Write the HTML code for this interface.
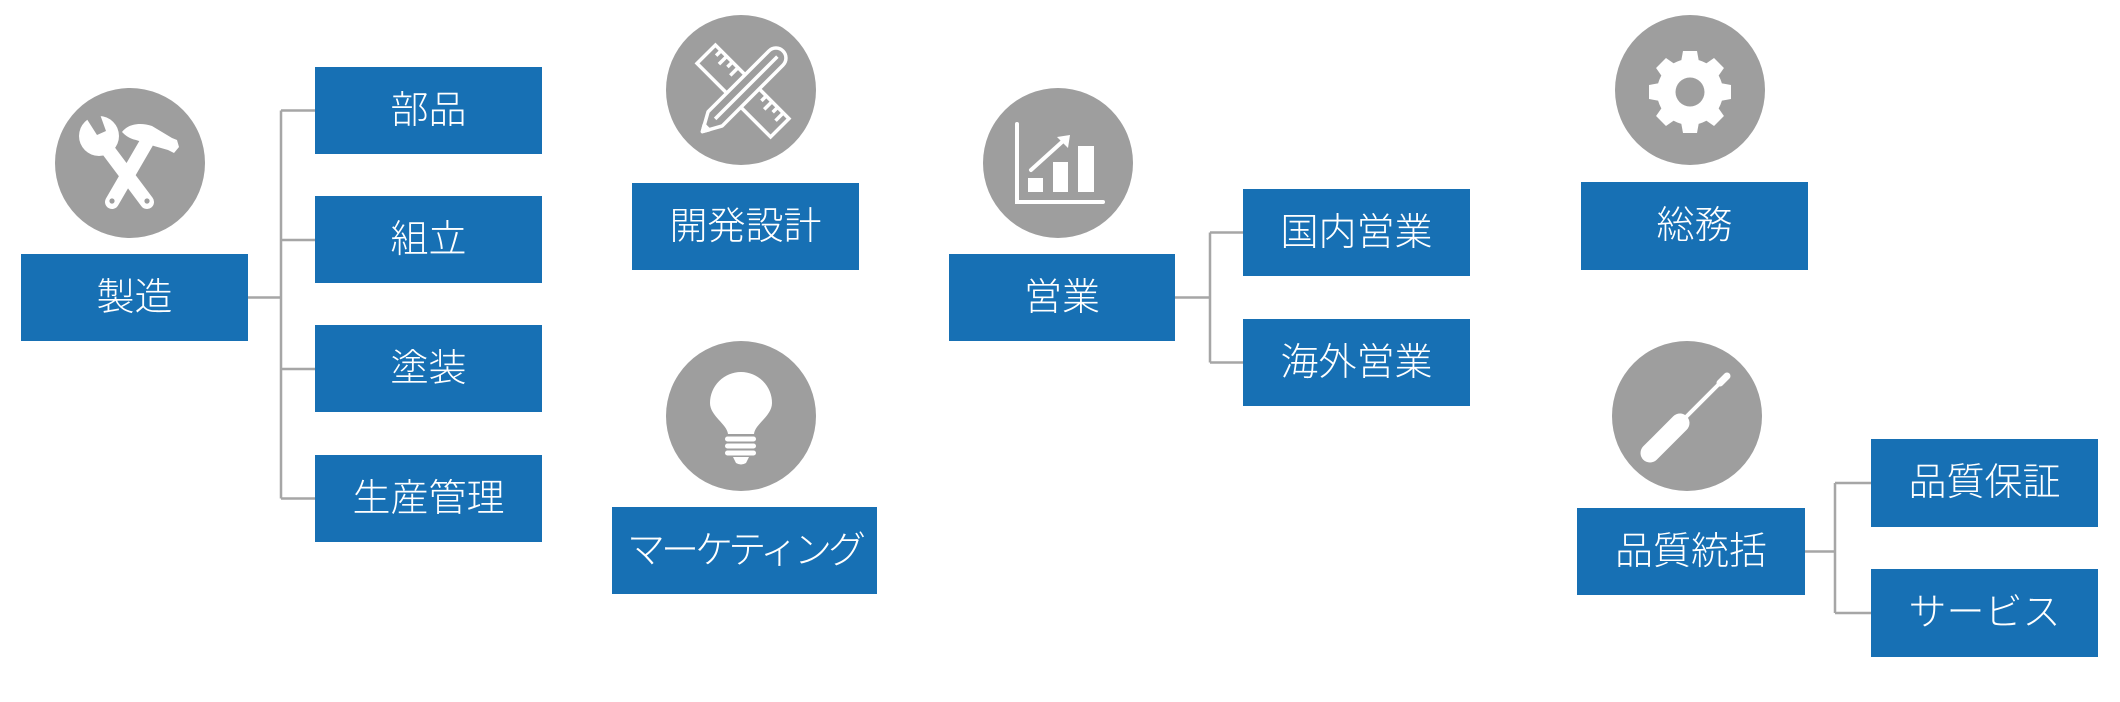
<!DOCTYPE html>
<html><head><meta charset="utf-8">
<style>
html,body{margin:0;padding:0;background:#fff;}
body{width:2120px;height:702px;position:relative;overflow:hidden;}
.b{position:absolute;background:#1770b4;color:#fff;display:flex;align-items:center;justify-content:center;
font-family:"Liberation Sans","Noto Sans CJK JP",sans-serif;font-size:38px;font-weight:300;line-height:1;white-space:nowrap;}
svg{position:absolute;left:0;top:0;}
</style></head><body>
<svg width="2120" height="702" viewBox="0 0 2120 702">
<g stroke="#a6a6a6" stroke-width="2.5" fill="none">
<path d="M248,297.5H281M281,110.5V498.5M281,110.5H315M281,240H315M281,369H315M281,498.5H315"/>
<path d="M1175,297.5H1210M1210,232.5V362.5M1210,232.5H1243M1210,362.5H1243"/>
<path d="M1805,551.5H1835M1835,483V613M1835,483H1871M1835,613H1871"/>
</g>
<g fill="#9e9e9e">
<circle cx="130" cy="163" r="75"/>
<circle cx="741" cy="90" r="75"/>
<circle cx="741" cy="416" r="75"/>
<circle cx="1058" cy="163" r="75"/>
<circle cx="1690" cy="90" r="75"/>
<circle cx="1687" cy="416" r="75"/>
</g>
<!-- wrench & hammer -->
<g>
<line x1="108" y1="150" x2="147" y2="202" stroke="#fff" stroke-width="14" stroke-linecap="round"/>
<circle cx="99" cy="136" r="20" fill="#fff"/>
<polygon points="97,135 83,113 97,106 106,131" fill="#9e9e9e"/>
<line x1="112" y1="202" x2="148" y2="140" stroke="#fff" stroke-width="14" stroke-linecap="round"/>
<path d="M122,132 C128,124 140,122 152,126 L172,138 L177,140 L179,147 L174,153 L168,150 L154,146 C148,144 142,142 136,140 C130,139 126,136 122,132 Z" fill="#fff"/>
<circle cx="112" cy="201" r="2.6" fill="#9e9e9e"/>
<circle cx="147" cy="201" r="2.6" fill="#9e9e9e"/>
</g>
<!-- ruler & pencil -->
<g transform="translate(743,91) rotate(45)" stroke="#fff" stroke-width="3.5" fill="none">
<rect x="-52" y="-13" width="104" height="26"/>
<path d="M-44,-13v7M-36,-13v11M-28,-13v7M-20,-13v11M20,-13v7M28,-13v11M36,-13v7M44,-13v11"/>
</g>
<g transform="translate(742,92) rotate(-45)" stroke="#fff" stroke-width="3.5" stroke-linejoin="round">
<path d="M-38,-10 H48 A10,10 0 0 1 48,10 H-38 L-56,0 Z" fill="#9e9e9e"/>
<line x1="-38" y1="0" x2="50" y2="0"/>
<path d="M-50,-3.5 L-56,0 L-50,3.5 Z" fill="#fff"/>
</g>
<!-- lightbulb -->
<g fill="#fff">
<path d="M728,434 C727,424 710,416 710,403 A31,31 0 1 1 772,403 C772,416 755,424 754,434 Z"/>
<rect x="725" y="436.5" width="31" height="5" rx="2.5"/>
<rect x="725" y="443.5" width="31" height="5" rx="2.5"/>
<rect x="725" y="450.5" width="31" height="5" rx="2.5"/>
<path d="M733,457 H749 L746,463 Q741,466 736,463 Z"/>
</g>
<!-- chart -->
<g fill="#fff">
<path d="M1017,124 V202 H1103" stroke="#fff" stroke-width="4" fill="none" stroke-linecap="round"/>
<rect x="1028" y="178" width="15" height="14"/>
<rect x="1053" y="162" width="15" height="30"/>
<rect x="1078" y="146" width="16" height="46"/>
<line x1="1031" y1="170" x2="1062" y2="142" stroke="#fff" stroke-width="4" stroke-linecap="round"/>
<polygon points="1070,135 1057,137 1068,148"/>
</g>
<!-- gear -->
<g transform="translate(1690,92)" fill="#fff">
<circle r="33"/>
<path d="M-9,-30 L-7,-41 H7 L9,-30 Z"/>
<path d="M-9,-30 L-7,-41 H7 L9,-30 Z" transform="rotate(45)"/>
<path d="M-9,-30 L-7,-41 H7 L9,-30 Z" transform="rotate(90)"/>
<path d="M-9,-30 L-7,-41 H7 L9,-30 Z" transform="rotate(135)"/>
<path d="M-9,-30 L-7,-41 H7 L9,-30 Z" transform="rotate(180)"/>
<path d="M-9,-30 L-7,-41 H7 L9,-30 Z" transform="rotate(225)"/>
<path d="M-9,-30 L-7,-41 H7 L9,-30 Z" transform="rotate(270)"/>
<path d="M-9,-30 L-7,-41 H7 L9,-30 Z" transform="rotate(315)"/>
<circle r="14.5" fill="#9e9e9e"/>
</g>
<!-- screwdriver -->
<g>
<line x1="1650" y1="453" x2="1680" y2="423" stroke="#fff" stroke-width="19" stroke-linecap="round"/>
<line x1="1676" y1="427" x2="1685" y2="418" stroke="#fff" stroke-width="13"/>
<line x1="1684" y1="419" x2="1722" y2="381" stroke="#fff" stroke-width="4"/>
<line x1="1720" y1="383" x2="1727" y2="376" stroke="#fff" stroke-width="7" stroke-linecap="round"/>
</g>
</svg>
<div class="b" style="left:21px;top:254px;width:227px;height:87px;">製造</div>
<div class="b" style="left:315px;top:67px;width:227px;height:87px;">部品</div>
<div class="b" style="left:315px;top:196px;width:227px;height:87px;">組立</div>
<div class="b" style="left:315px;top:325px;width:227px;height:87px;">塗装</div>
<div class="b" style="left:315px;top:455px;width:227px;height:87px;">生産管理</div>
<div class="b" style="left:632px;top:183px;width:227px;height:87px;">開発設計</div>
<div class="b" style="left:612px;top:507px;width:265px;height:87px;letter-spacing:-4px;">マーケティング</div>
<div class="b" style="left:949px;top:254px;width:226px;height:87px;">営業</div>
<div class="b" style="left:1243px;top:189px;width:227px;height:87px;">国内営業</div>
<div class="b" style="left:1243px;top:319px;width:227px;height:87px;">海外営業</div>
<div class="b" style="left:1581px;top:182px;width:227px;height:88px;">総務</div>
<div class="b" style="left:1577px;top:508px;width:228px;height:87px;">品質統括</div>
<div class="b" style="left:1871px;top:439px;width:227px;height:88px;">品質保証</div>
<div class="b" style="left:1871px;top:569px;width:227px;height:88px;">サービス</div>
</body></html>
